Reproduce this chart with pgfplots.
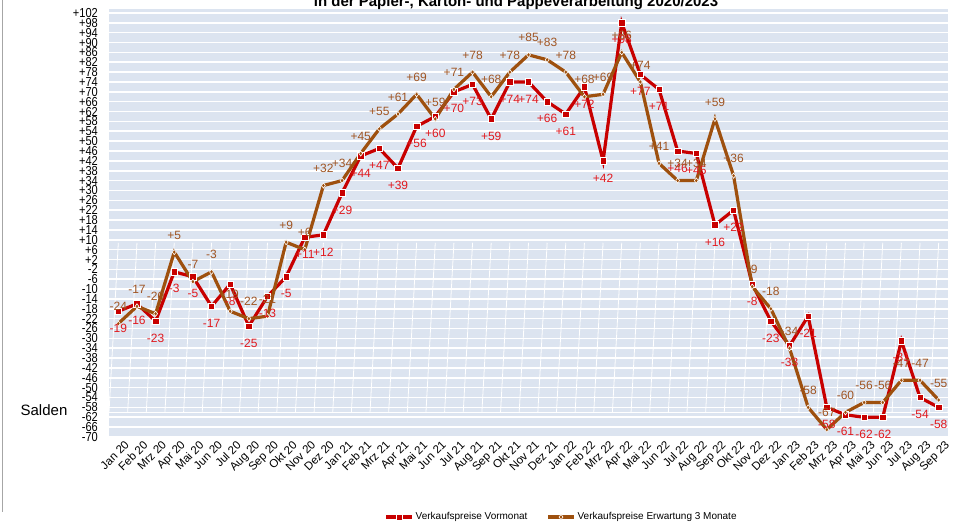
\documentclass[border=0pt]{standalone}
\usepackage{pgfplots}
\usepackage{pgfplotstable}
\pgfplotsset{compat=1.18}
\usepackage{fontspec}
\setmainfont{Liberation Sans}
\newfontfamily\narrowfont[FakeStretch=0.85]{Liberation Sans}
\definecolor{redline}{RGB}{200,0,0}
\definecolor{redlab}{RGB}{225,25,30}
\definecolor{brownline}{RGB}{158,80,14}
\definecolor{brownlab}{RGB}{160,85,35}
\definecolor{bgblue}{RGB}{220,228,240}

\pgfplotstableread{
x r rl b bl
0 -19 -19 -24 -24
1 -16 -16 -17 -17
2 -23 -23 -20 -20
3 -3 -3 5 +5
4 -5 -5 -7 -7
5 -17 -17 -3 -3
6 -8 -8 -19 -19
7 -25 -25 -22 -22
8 -13 -13 -21 -21
9 -5 -5 9 +9
10 11 +11 6 +6
11 12 +12 32 +32
12 29 +29 34 +34
13 44 +44 45 +45
14 47 +47 55 +55
15 39 +39 61 +61
16 56 +56 69 +69
17 60 +60 59 +59
18 70 +70 71 +71
19 73 +73 78 +78
20 59 +59 68 +68
21 74 +74 78 +78
22 74 +74 85 +85
23 66 +66 83 +83
24 61 +61 78 +78
25 72 +72 68 +68
26 42 +42 69 +69
27 98 +98 86 +86
28 77 +77 74 +74
29 71 +71 41 +41
30 46 +46 34 +34
31 45 +45 34 +34
32 16 +16 59 +59
33 22 +22 36 +36
34 -8 -8 -9 -9
35 -23 -23 -18 -18
36 -33 -33 -34 -34
37 -21 -21 -58 -58
38 -58 -58 -67 -67
39 -61 -61 -60 -60
40 -62 -62 -56 -56
41 -62 -62 -56 -56
42 -31 -31 -47 -47
43 -54 -54 -47 -47
44 -58 -58 -55 -55
}\chartdata

\begin{document}
\begin{tikzpicture}
\begin{axis}[
  at={(109bp,89bp)}, anchor=south west,
  scale only axis, width=839bp, height=428bp,
  xmin=-0.5, xmax=44.5, ymin=-70, ymax=103.6,
  xtick={0,...,44},
  xticklabels={Jan 20,Feb 20,Mrz 20,Apr 20,Mai 20,Jun 20,Jul 20,Aug 20,Sep 20,Okt 20,Nov 20,Dez 20,Jan 21,Feb 21,Mrz 21,Apr 21,Mai 21,Jun 21,Jul 21,Aug 21,Sep 21,Okt 21,Nov 21,Dez 21,Jan 22,Feb 22,Mrz 22,Apr 22,Mai 22,Jun 22,Jul 22,Aug 22,Sep 22,Okt 22,Nov 22,Dez 22,Jan 23,Feb 23,Mrz 23,Apr 23,Mai 23,Jun 23,Jul 23,Aug 23,Sep 23},
  ytick={-70,-66,...,102},
  yticklabels={-70,-66,-62,-58,-54,-50,-46,-42,-38,-34,-30,-26,-22,-18,-14,-10,-6,-2,+2,+6,+10,+14,+18,+22,+26,+30,+34,+38,+42,+46,+50,+54,+58,+62,+66,+70,+74,+78,+82,+86,+90,+94,+98,+102},
  ymajorgrids, major grid style={white, line width=1.6bp},
  axis line style={draw=none},
  major tick length=0pt,
  axis background/.style={fill=bgblue},
  x tick label style={font=\fontsize{11.5bp}{12bp}\selectfont, rotate=45, anchor=north east, inner sep=0pt, xshift=2bp, yshift=-6bp},
  y tick label style={font=\narrowfont\fontsize{13bp}{13bp}\selectfont, anchor=east, inner sep=0pt, xshift=-11bp},
  clip=false,
  legend style={at={(0.5394,-0.187)}, anchor=center, draw=none, fill=none,
    font=\fontsize{10bp}{12bp}\selectfont, legend columns=2,
    /tikz/every even column/.append style={column sep=17bp}},
  legend image code/.code={\draw[#1, mark repeat=2, mark phase=2] plot coordinates {(0bp,0bp) (13bp,0bp) (26bp,0bp)};},
]
\pgfplotsinvokeforeach{0,...,45}{\draw[white, line width=0.8bp] (axis cs:#1-0.5,-60) -- ++(0,-3bp);}
\draw[white, line width=0.8bp] (axis cs:-0.5,-60) -- (axis cs:44.5,-60);

\addplot[redline, line width=3.2bp, mark=square*, mark size=3.2bp,
  mark options={fill=redline, draw=white, line width=0.6bp, solid}]
  table[x=x, y=r]{\chartdata};
\addlegendentry{Verkaufspreise Vormonat}
\addplot[brownline, line width=3.2bp, mark=diamond*, mark size=2.6bp,
  mark options={fill=brownline, draw=white, line width=0.6bp, solid}]
  table[x=x, y=b]{\chartdata};
\addlegendentry{Verkaufspreise Erwartung 3 Monate}

\addplot[draw=none, forget plot, nodes near coords, point meta=explicit symbolic,
  every node near coord/.style={font=\fontsize{12bp}{12bp}\selectfont, text=redlab, anchor=center, yshift=-17bp, inner sep=0pt}]
  table[x=x, y=r, meta=rl]{\chartdata};
\addplot[draw=none, forget plot, nodes near coords, point meta=explicit symbolic,
  every node near coord/.style={font=\fontsize{12bp}{12bp}\selectfont, text=brownlab, anchor=center, yshift=17bp, inner sep=0pt}]
  table[x=x, y=b, meta=bl]{\chartdata};
\end{axis}
\node[font=\fontsize{15bp}{15bp}\selectfont, anchor=center] at (44bp,116bp) {Salden};
\node[font=\bfseries\fontsize{15bp}{15bp}\selectfont, anchor=base] at (516bp,519bp) {in der Papier-, Karton- und Pappeverarbeitung 2020/2023};
\draw[gray!70, line width=1bp] (2bp,526bp) -- (2bp,14bp);
\pgfresetboundingbox
\path[use as bounding box] (0,0) rectangle (964bp,526bp);
\end{tikzpicture}
\end{document}
